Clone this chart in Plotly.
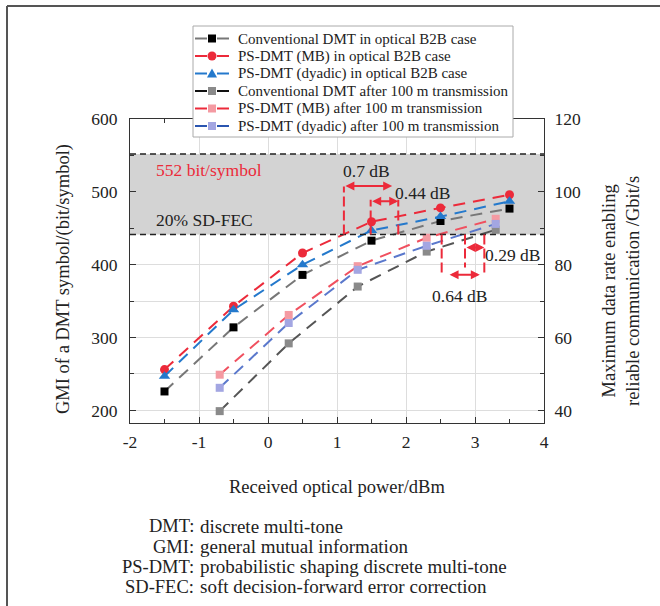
import plotly.graph_objects as go

# ---------------- data ----------------
x_b2b = [-1.5, -0.5, 0.5, 1.5, 2.5, 3.5]
conv_b2b = [226, 314, 386, 433, 460, 477]
mb_b2b = [256, 343, 416, 459, 478, 496]
dyadic_b2b = [247, 338, 400, 447, 466, 487]

x_100m = [-0.7, 0.3, 1.3, 2.3, 3.3]
conv_100m = [199, 292, 370, 418, 448]
mb_100m = [249, 331, 398, 437, 463]
dyadic_100m = [231, 320, 393, 426, 456]

names = [
    "Conventional DMT in optical B2B case",
    "PS-DMT (MB) in optical B2B case",
    "PS-DMT (dyadic) in optical B2B case",
    "Conventional DMT after 100 m transmission",
    "PS-DMT (MB) after 100 m transmission",
    "PS-DMT (dyadic) after 100 m transmission",
]

x_range = [-2, 4]
x_tick_vals = [-2, -1, 0, 1, 2, 3, 4]
x_tick_text = ["-2", "-1", "0", "1", "2", "3", "4"]
y_tick_vals = [200, 300, 400, 500, 600]
y2_tick_vals = [40, 60, 80, 100, 120]

fec_top = 552
fec_bottom = 441.6

footnote_keys = ["DMT:", "GMI:", "PS-DMT:", "SD-FEC:"]
footnote_vals = ["discrete multi-tone", "general mutual information",
                 "probabilistic shaping discrete multi-tone",
                 "soft decision-forward error correction"]

# ---------------- style ----------------
FONT = "Liberation Serif"
TXT = "#222222"
RED = "#ec2a3a"
BLUE = "#2479cc"
DASH = "12px,8px"

# pixel geometry of the plot area
L, R, T, B = 130, 544, 119, 423
W, H = 660, 606
def px(xp):
    return (xp - L) / (R - L)
def py(yp):
    return (B - yp) / (B - T)

styles = [
    dict(lc="#777777", mc="#000000", sym="square", ms=8),
    dict(lc=RED, mc=RED, sym="circle", ms=9),
    dict(lc=BLUE, mc=BLUE, sym="triangle-up", ms=10),
    dict(lc="#555555", mc="#8a8a8a", sym="square", ms=8),
    dict(lc="#f0505f", mc="#f49aa2", sym="square", ms=8),
    dict(lc="#5a78cc", mc="#a3a6e2", sym="square", ms=8),
]
legend_line_colors = ["#777777", RED, BLUE, "#111111", RED, "#2a55b0"]

fig = go.Figure()

# FEC band (drawn first: above grid, below data)
fig.add_trace(go.Scatter(
    x=[x_range[0], x_range[1], x_range[1], x_range[0], x_range[0]],
    y=[fec_bottom, fec_bottom, fec_top, fec_top, fec_bottom],
    fill="toself", fillcolor="#d3d3d3", mode="lines",
    line=dict(width=0), hoverinfo="skip", showlegend=False))

series = [(x_b2b, conv_b2b), (x_b2b, mb_b2b), (x_b2b, dyadic_b2b),
          (x_100m, conv_100m), (x_100m, mb_100m), (x_100m, dyadic_100m)]
for (xs, ys), nm, st in zip(series, names, styles):
    fig.add_trace(go.Scatter(
        x=xs, y=ys, name=nm, mode="lines+markers",
        line=dict(color=st["lc"], width=2, dash=DASH),
        marker=dict(color=st["mc"], symbol=st["sym"], size=st["ms"],
                    line=dict(width=0))))

# dummy trace to bring up the right axis
fig.add_trace(go.Scatter(x=[None], y=[None], yaxis="y2", showlegend=False,
                         hoverinfo="skip"))

shapes = []
for yv in (fec_top, fec_bottom):
    shapes.append(dict(type="line", xref="x", yref="y", x0=x_range[0],
                       x1=x_range[1], y0=yv, y1=yv,
                       line=dict(color="#222222", width=1.5, dash="6px,4px")))
# red dashed guide lines
guides = [(1.10, 507.5), (1.488, 489), (1.888, 489),
          (2.517, 384), (2.855, 396), (3.135, 384)]
for gx, gy in guides:
    shapes.append(dict(type="line", xref="x", yref="y", x0=gx, x1=gx,
                       y0=fec_bottom, y1=gy,
                       line=dict(color=RED, width=2, dash="10px,4px")))
# figure border (left + top)
shapes.append(dict(type="line", xref="paper", yref="paper",
                   x0=px(7), x1=px(7), y0=py(W), y1=py(6),
                   line=dict(color="#555555", width=2)))
shapes.append(dict(type="line", xref="paper", yref="paper",
                   x0=px(7), x1=px(W + 5), y0=py(6), y1=py(6),
                   line=dict(color="#555555", width=2)))

ann = []

# ---------------- manual legend ----------------
shapes.append(dict(type="rect", xref="paper", yref="paper",
                   x0=px(193), x1=px(513), y0=py(137), y1=py(26),
                   fillcolor="white", line=dict(color="#aaaaaa", width=1)))
row_y = [38.5, 56, 73.5, 91, 108.5, 126]
for i, (nm, st) in enumerate(zip(names, styles)):
    ax_, ay_ = px(212), py(row_y[i])
    base = dict(xref="paper", yref="paper", xsizemode="pixel",
                ysizemode="pixel", xanchor=ax_, yanchor=ay_)
    for a, b in ((-17, -5), (5, 17)):
        shapes.append(dict(type="line", x0=a, x1=b, y0=0, y1=0,
                           line=dict(color=legend_line_colors[i], width=2),
                           **base))
    if st["sym"] == "square":
        shapes.append(dict(type="rect", x0=-4, x1=4, y0=-4, y1=4,
                           fillcolor=st["mc"], line=dict(width=0), **base))
    elif st["sym"] == "circle":
        shapes.append(dict(type="circle", x0=-4.5, x1=4.5, y0=-4.5, y1=4.5,
                           fillcolor=st["mc"], line=dict(width=0), **base))
    else:
        shapes.append(dict(type="path", path="M -5 -4 L 5 -4 L 0 5 Z",
                           fillcolor=st["mc"], line=dict(width=0), **base))
    ann.append(dict(x=px(236), y=ay_, xref="paper", yref="paper", text=nm,
                    showarrow=False, xanchor="left", yanchor="middle",
                    font=dict(family=FONT, size=15, color=TXT)))

def arrow(x0, x1, y):
    ann.append(dict(x=x1, y=y, ax=x0, ay=y, xref="x", yref="y", axref="x",
                    ayref="y", text="", showarrow=True, arrowhead=2,
                    startarrowhead=2, arrowside="end+start", arrowsize=0.9,
                    startarrowsize=0.9, arrowwidth=2, arrowcolor=RED,
                    standoff=0, startstandoff=0))

arrow(1.10, 1.80, 508)
arrow(1.488, 1.888, 487)
arrow(2.855, 3.135, 423.7)
arrow(2.61, 3.07, 386.3)

def txt(x, y, s, color=TXT, xanchor="center", size=17.5):
    ann.append(dict(x=x, y=y, xref="x", yref="y", text=s, showarrow=False,
                    xanchor=xanchor, yanchor="middle",
                    font=dict(family=FONT, size=size, color=color)))

txt(-1.65, 529.5, "552 bit/symbol", color=RED, xanchor="left")
txt(-1.65, 462, "20% SD-FEC", xanchor="left")
txt(1.426, 528, "0.7 dB")
txt(1.81, 498.4, "0.44 dB", xanchor="left")
txt(3.115, 412.8, "0.29 dB", xanchor="left")
txt(2.77, 357.4, "0.64 dB")

# axis titles
ann.append(dict(x=0.5, y=py(487), xref="paper", yref="paper",
                text="Received optical power/dBm", showarrow=False,
                xanchor="center", yanchor="middle",
                font=dict(family=FONT, size=18.5, color=TXT)))
ann.append(dict(x=px(63), y=py(279), xref="paper", yref="paper",
                text="GMI of a DMT symbol/(bit/symbol)", showarrow=False,
                textangle=-90, xanchor="center", yanchor="middle",
                font=dict(family=FONT, size=18.5, color=TXT)))
ann.append(dict(x=px(621), y=py(291), xref="paper", yref="paper",
                text="Maximum data rate enabling<br>reliable communication /Gbit/s",
                showarrow=False, textangle=-90, xanchor="center",
                yanchor="middle",
                font=dict(family=FONT, size=18.5, color=TXT)))

# footnotes
foot_y = [526, 546.5, 566.5, 586.5]
for k, v, fy in zip(footnote_keys, footnote_vals, foot_y):
    ann.append(dict(x=px(196), y=py(fy), xref="paper", yref="paper", text=k,
                    showarrow=False, xanchor="right", yanchor="middle",
                    font=dict(family=FONT, size=18.5, color=TXT)))
    ann.append(dict(x=px(198), y=py(fy), xref="paper", yref="paper", text=v,
                    showarrow=False, xanchor="left", yanchor="middle",
                    font=dict(family=FONT, size=19, color=TXT)))

AX = "#333333"
GRID = "#dddddd"

fig.update_layout(
    width=W, height=H,
    margin=dict(l=L, r=W - R, t=T, b=H - B, pad=0),
    paper_bgcolor="white", plot_bgcolor="white",
    font=dict(family=FONT, size=17.5, color=TXT),
    showlegend=False,
    xaxis=dict(range=x_range, tickvals=x_tick_vals, ticktext=x_tick_text,
               showgrid=True, gridcolor=GRID, gridwidth=1, zeroline=False,
               showline=True, linecolor=AX, linewidth=1, mirror="ticks",
               ticks="inside", ticklen=6, tickcolor=AX,
               ticklabelstandoff=3,
               minor=dict(dtick=0.5, tick0=-2, ticks="inside", ticklen=4,
                          tickcolor=AX, showgrid=False)),
    yaxis=dict(range=[182.7, 600], tickvals=y_tick_vals,
               showgrid=True, gridcolor=GRID, gridwidth=1, zeroline=False,
               showline=True, linecolor=AX, linewidth=1,
               ticks="inside", ticklen=6, tickcolor=AX,
               ticklabelstandoff=8,
               minor=dict(dtick=50, tick0=200, ticks="inside", ticklen=4,
                          tickcolor=AX, showgrid=True, gridcolor=GRID)),
    yaxis2=dict(range=[182.7 / 5, 120], tickvals=y2_tick_vals,
                overlaying="y", side="right", showgrid=False,
                zeroline=False, showline=True, linecolor=AX, linewidth=1,
                ticks="inside", ticklen=6, tickcolor=AX,
                ticklabelstandoff=6,
                minor=dict(dtick=10, tick0=40, ticks="inside", ticklen=4,
                           tickcolor=AX)),
    shapes=shapes,
    annotations=ann,
)

fig.write_html("out.html")
